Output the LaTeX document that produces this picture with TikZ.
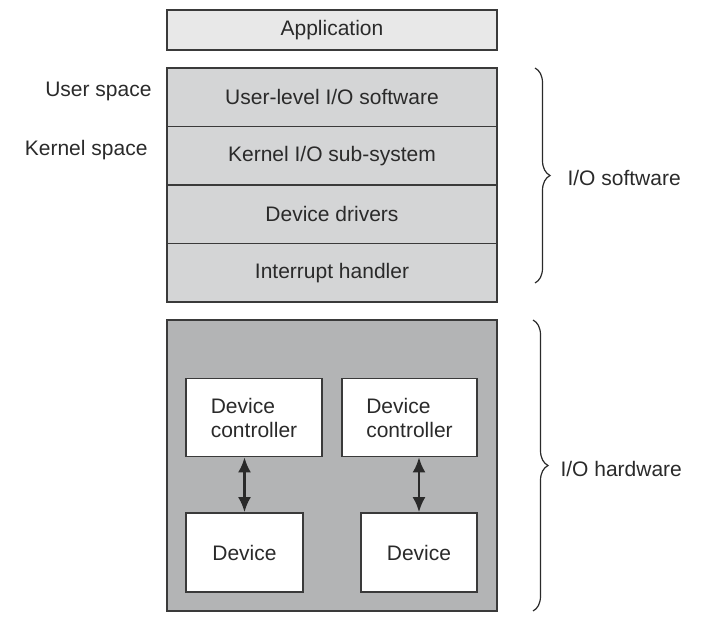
\documentclass[tikz,border=0pt]{standalone}
\usepackage{fontspec}
\setmainfont{Liberation Sans}
\usetikzlibrary{arrows.meta,decorations.pathreplacing}
\definecolor{edge}{HTML}{3A3A3A}
\definecolor{ink}{HTML}{2A2A2A}
\definecolor{appfill}{HTML}{E8E8E8}
\definecolor{swfill}{HTML}{D4D5D6}
\definecolor{hwfill}{HTML}{B3B4B5}

\begin{document}
\begin{tikzpicture}[x=1pt,y=-1pt,
  every node/.style={font=\fontsize{21}{24}\selectfont, text=ink},
  box/.style={draw=edge, line width=1.8pt, inner sep=0pt},
  layer/.style={box, fill=swfill, minimum width=330pt, minimum height=58.5pt},
  unit/.style={box, fill=white, minimum height=78pt, align=left},
  brc/.style={draw=ink, line width=1.2pt, decorate, decoration={brace, amplitude=15pt}},
  >={Latex[length=15pt,width=13pt]}]
\useasboundingbox (0,0) rectangle (714,618);
\node[box, fill=appfill, minimum width=330pt, minimum height=40pt] (app) at (332,30) {Application};
\foreach \t [count=\i] in {User-level I/O software, Kernel I/O sub-system, Device drivers, Interrupt handler}
{	\node[layer] (sw\i) at (332,38.75+58.5*\i) {\t};
}
\node[anchor=east] (user) at (155,91) {User space};
\node[anchor=east] (kernel) at (151,150) {Kernel space};
% hardware part
\node[box, fill=hwfill, minimum width=330pt, minimum height=291pt] (hw) at (332,465.5) {};
\node[unit, minimum width=136pt] (ctrlA) at (254,417.5) {Device\\controller};
\node[unit, minimum width=135pt] (ctrlB) at (409.5,417.5) {Device\\controller};
\node[unit, minimum width=117pt, minimum height=79pt] (devA) at (244.5,552.5) {Device};
\node[unit, minimum width=116pt, minimum height=79pt] (devB) at (419,552.5) {Device};
\draw [<->, line width=2.4pt, draw=ink] (ctrlA.south -| devA.north)--(devA.north);
\draw [<->, line width=2.4pt, draw=ink] (ctrlB.south -| devB.north)--(devB.north);
% braces
\coordinate (swtop) at (535,68);
\coordinate (swbot) at (535,283);
\coordinate (hwtop) at (533,320);
\coordinate (hwbot) at (533,611);
\draw [brc] (swtop)--(swbot);
\draw [brc] (hwtop)--(hwbot);
\node[anchor=west] (swlab) at (564,178) {I/O software};
\node[anchor=west] (hwlab) at (557,469) {I/O hardware};
\end{tikzpicture}
\end{document}
